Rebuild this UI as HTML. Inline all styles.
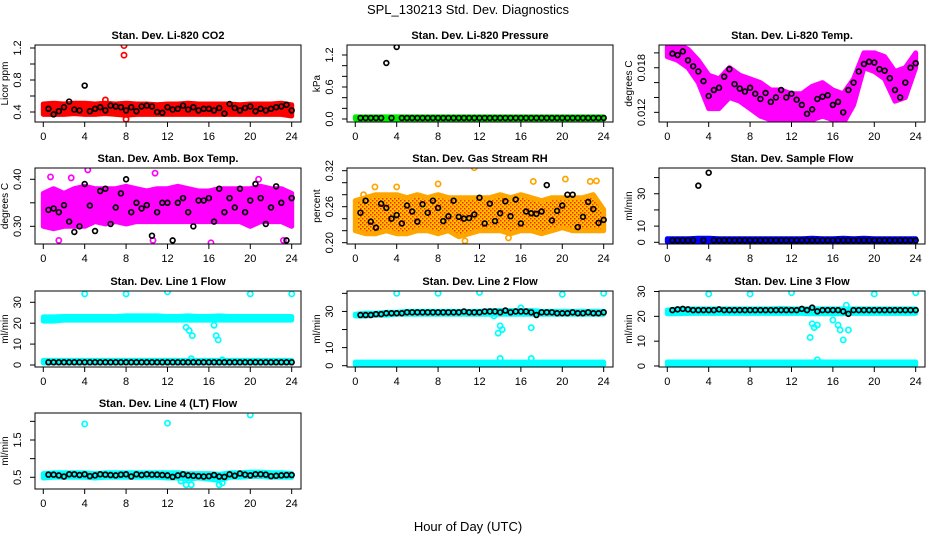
<!DOCTYPE html>
<html><head><meta charset="utf-8"><style>
html,body{margin:0;padding:0;background:#fff;}
svg{display:block;font-family:"Liberation Sans",sans-serif;}
</style></head><body>
<svg id="c" width="936" height="540" viewBox="0 0 936 540" xmlns="http://www.w3.org/2000/svg">
<defs>
<pattern id="rhpat" width="4" height="4" patternUnits="userSpaceOnUse">
<rect width="4" height="4" fill="#ffc000"/>
<rect x="0" y="0" width="1.5" height="1.5" fill="#ff2000"/>
<rect x="2" y="2" width="1.5" height="1.5" fill="#ff2000"/>
</pattern>
</defs>
<text x="468" y="14" text-anchor="middle" font-size="13">SPL_130213  Std. Dev. Diagnostics</text>
<text x="468" y="531" text-anchor="middle" font-size="13">Hour of Day (UTC)</text>
</svg>
<script>
// shared categories
const halfHours = [0.5,1,1.5,2,2.5,3,3.5,4,4.5,5,5.5,6,6.5,7,7.5,8,8.5,9,9.5,10,10.5,11,11.5,12,12.5,13,13.5,14,14.5,15,15.5,16,16.5,17,17.5,18,18.5,19,19.5,20,20.5,21,21.5,22,22.5,23,23.5,24];
const bandHours = [0,1,2,3,4,5,6,7,8,9,10,11,12,13,14,15,16,17,18,19,20,21,22,23,24];
const xTicks = [0,4,8,12,16,20,24];

// P1 CO2
const co2Black = [0.44,0.37,0.41,0.46,0.53,0.43,0.42,0.73, 0.41,0.44,0.46,0.42,0.48,0.47,0.46,0.42, 0.46,0.41,0.47,0.48,0.47,0.40,0.39,0.46, 0.43,0.44,0.48,0.43,0.46,0.42,0.44,0.44, 0.42,0.45,0.38,0.50,0.45,0.42,0.45,0.47, 0.41,0.44,0.42,0.44,0.46,0.47,0.49,0.42];
const co2Lo = [0.37,0.37,0.37,0.38,0.37,0.37,0.38,0.37,0.36,0.37,0.37,0.37,0.37,0.37,0.37,0.37,0.37,0.37,0.37,0.37,0.37,0.37,0.37,0.37,0.35];
const co2Hi = [0.50,0.51,0.50,0.51,0.51,0.50,0.51,0.50,0.51,0.50,0.50,0.49,0.50,0.50,0.51,0.50,0.50,0.50,0.50,0.49,0.50,0.50,0.50,0.51,0.49];
const co2OutX = [7.8,7.8,8.0,6.0];
const co2OutY = [1.23,1.11,0.31,0.55];

// P2 Pressure
const presBlack = [0.02,0.02,0.02,0.02,0.02,1.05,0.02,1.35, 0.02,0.02,0.02,0.02,0.02,0.02,0.02,0.02, 0.02,0.02,0.02,0.02,0.02,0.02,0.02,0.02, 0.02,0.02,0.02,0.02,0.02,0.02,0.02,0.02, 0.02,0.02,0.02,0.02,0.02,0.02,0.02,0.02, 0.02,0.02,0.02,0.02,0.02,0.02,0.02,0.02];
const presLo = [0,0,0,0,0,0,0,0,0,0,0,0,0,0,0,0,0,0,0,0,0,0,0,0,0];
const presHi = [0.04,0.04,0.04,0.04,0.04,0.04,0.04,0.04,0.04,0.04,0.04,0.04,0.04,0.04,0.04,0.04,0.04,0.04,0.04,0.04,0.04,0.04,0.04,0.04,0.04];

// P3 Li-820 temp
const tempBlack = [0.0199,0.0197,0.0202,0.0190,0.0182,0.0175,0.0162,0.0142, 0.0150,0.0153,0.0168,0.0178,0.0158,0.0152,0.0148,0.0153, 0.0145,0.0138,0.0146,0.0134,0.0140,0.0150,0.0140,0.0145, 0.0137,0.0130,0.0118,0.0124,0.0138,0.0141,0.0143,0.0130, 0.0134,0.0120,0.0150,0.0160,0.0175,0.0185,0.0188,0.0187, 0.0178,0.0176,0.0166,0.0150,0.0140,0.0160,0.0180,0.0186];
const tempLo = [0.0195,0.0190,0.0180,0.0160,0.0125,0.0125,0.0140,0.0135,0.0125,0.0115,0.0110,0.0110,0.0105,0.0110,0.0110,0.0115,0.0110,0.0105,0.0130,0.0180,0.0175,0.0165,0.0135,0.0140,0.0180];
const tempHi = [0.0208,0.0212,0.0205,0.0190,0.0170,0.0165,0.0180,0.0170,0.0165,0.0160,0.0150,0.0150,0.0145,0.0145,0.0155,0.0160,0.0150,0.0145,0.0165,0.0200,0.0200,0.0195,0.0175,0.0180,0.0200];

// P4 Amb box temp
const boxBlack = [0.335,0.338,0.33,0.345,0.31,0.288,0.30,0.39, 0.344,0.29,0.375,0.38,0.305,0.34,0.37,0.40, 0.33,0.35,0.338,0.345,0.28,0.33,0.35,0.35, 0.27,0.35,0.36,0.33,0.30,0.355,0.355,0.36, 0.31,0.38,0.33,0.36,0.34,0.38,0.33,0.355, 0.39,0.36,0.305,0.34,0.385,0.35,0.27,0.36];
const boxLo = [0.30,0.295,0.30,0.30,0.30,0.31,0.305,0.31,0.305,0.31,0.31,0.31,0.31,0.31,0.31,0.31,0.31,0.31,0.31,0.31,0.30,0.31,0.31,0.31,0.30];
const boxHi = [0.37,0.38,0.37,0.38,0.385,0.38,0.38,0.38,0.385,0.38,0.375,0.38,0.38,0.385,0.38,0.375,0.375,0.38,0.38,0.38,0.38,0.385,0.38,0.38,0.37];
const boxOutX = [0.7,4.3,10.8,1.5,16.2,20.8,2.7,10.6,23.2];
const boxOutY = [0.405,0.42,0.413,0.27,0.265,0.40,0.403,0.27,0.27];

// P5 Gas stream RH
const rhBlack = [0.25,0.27,0.235,0.225,0.265,0.258,0.24,0.246, 0.232,0.262,0.252,0.235,0.264,0.25,0.27,0.258, 0.236,0.244,0.27,0.243,0.240,0.241,0.247,0.275, 0.232,0.265,0.236,0.249,0.269,0.244,0.272,0.232, 0.252,0.249,0.248,0.252,0.296,0.237,0.253,0.262, 0.280,0.280,0.226,0.243,0.268,0.256,0.233,0.238];
const rhLo = [0.22,0.215,0.215,0.22,0.215,0.215,0.22,0.22,0.215,0.22,0.21,0.215,0.22,0.22,0.22,0.215,0.22,0.22,0.215,0.22,0.225,0.22,0.22,0.22,0.22];
const rhHi = [0.27,0.275,0.28,0.28,0.28,0.275,0.28,0.275,0.28,0.275,0.275,0.275,0.275,0.275,0.28,0.275,0.28,0.275,0.27,0.275,0.275,0.275,0.275,0.28,0.255];
const rhOutX = [11.5,8.0,0.8,20.3,22.7,23.3,17.2,1.9,4.0,10.6,14.8];
const rhOutY = [0.325,0.298,0.28,0.306,0.302,0.303,0.302,0.293,0.293,0.203,0.208];

// P6 Sample flow
const sfBlack = [1.2,1.2,1.2,1.2,1.2,35,1.2,43, 1.2,1.2,1.2,1.2,1.2,1.2,1.2,1.2, 1.2,1.2,1.2,1.2,1.2,1.2,1.2,1.2, 1.2,1.2,1.2,1.2,1.2,1.2,1.2,1.2, 1.2,1.2,1.2,1.2,1.2,1.2,1.2,1.2, 1.2,1.2,1.2,1.2,1.2,1.2,1.2,1.2];
const sfLo = [0.3,0.3,0.3,0.3,0.3,0.3,0.3,0.3,0.3,0.3,0.3,0.3,0.3,0.3,0.3,0.3,0.3,0.3,0.3,0.3,0.3,0.3,0.3,0.3,0.3];
const sfHi = [2.2,2.2,2.2,2.5,2.5,2.2,2.2,2.2,2.2,2.2,2.2,2.2,2.2,2.2,2.5,2.2,2.2,2.5,2.2,2.5,2.2,2.2,2.2,2.2,2.2];

// P7 Line 1 flow
const l1Black = [1.3,1.3,1.3,1.3,1.3,1.3,1.3,1.3, 1.3,1.3,1.3,1.3,1.3,1.3,1.3,1.3, 1.3,1.3,1.3,1.3,1.3,1.3,1.3,1.3, 1.3,1.3,1.3,1.3,1.3,1.3,1.3,1.3, 1.3,1.3,1.3,1.3,1.3,1.3,1.3,1.3, 1.3,1.3,1.3,1.3,1.3,1.3,1.3,1.3];
const l1Lo = [21,21,21.5,21.5,21.5,21.5,21.5,21.5,21.5,21.5,21.5,21.5,21.5,21.5,21.5,21.5,21.5,21.5,21.5,21.5,21.5,21.5,21.5,21.5,21.5];
const l1Hi = [23,23,23.2,23.2,23.2,23.2,23.2,23.2,23.5,23.5,23.5,23.5,23.2,23.2,23.5,23.2,23.2,23.5,23.2,23.2,23.2,23.2,23.2,23.2,23.2];
const l1Lo2 = [1,1,1,1,1,1,1,1,1,1,1,1,1,1,1,1,1,1,1,1,1,1,1,1,1];
const l1Hi2 = [2.2,2.2,2.2,2.2,2.2,2.2,2.2,2.2,2.2,2.2,2.2,2.2,2.2,2.2,2.2,2.2,2.2,2.2,2.2,2.2,2.2,2.2,2.2,2.2,2.2];
const l1OutX = [4,8,12,20,24,13.8,14.1,14.4,16.5,16.7,16.9,14.3,17.3];
const l1OutY = [34,34,35,34,34,18,16.5,14,19,14,12,3,2.5];

// P8 Line 2 flow
const l2Black = [28,28,28,28.5,28.5,29,29,29, 29,29.5,29.5,29.5,29.5,29.5,29.5,29.5, 29.5,29.5,29.5,29.5,30,29.5,29.5,29.5, 30,30,30,29.5,30.5,29.5,30,30, 30,29.5,28,29.5,29.5,29.5,29,29, 29,29.5,29,29,29.5,29,29,29.5];
const l2Lo = [27.5,27.5,28,28,28.5,28.5,28.5,28.5,28.5,28.5,28.5,28.5,28.5,28.5,28.5,28.5,28.5,28.5,28.5,28.5,28.5,28.5,28.5,28.5,28.5];
const l2Hi = [28.5,29,29,29.5,29.5,30,30,30,30,30,30,30,30,30.5,30.5,30.5,30.5,30.5,30,30,30,30,30,30,30];
const l2Lo2 = [0.6,0.6,0.6,0.6,0.6,0.6,0.6,0.6,0.6,0.6,0.6,0.6,0.6,0.6,0.6,0.6,0.6,0.6,0.6,0.6,0.6,0.6,0.6,0.6,0.6];
const l2Hi2 = [2,2,2,2,2,2,2,2,2,2,2,2,2,2,2,2,2,2,2,2,2,2,2,2,2];
const l2OutX = [4,8,12,20,24,14,14.2,13.8,13.4,16,17,14,17];
const l2OutY = [40,40,40.5,39.5,40,22,20,18,27.5,32,21,4,4];

// P9 Line 3 flow
const l3Black = [22.5,22.8,23,22.8,22.5,22.5,22.5,22.5, 22.5,22.8,22.5,22.5,22.5,22.5,22.5,22.5, 22.5,22.5,22.5,22.5,22.5,22.5,22.5,22.5, 22.5,23,22.5,23.5,22,22.5,22.5,22.5, 22.5,22,21,22.5,22.5,22.5,22.5,22.5, 22.5,22.5,22.5,22.5,22.5,22.5,22.5,22.5];
const l3Lo = [21,21,21.2,21.2,21.2,21.2,21.2,21.2,21.2,21.2,21.2,21.2,21.2,21.2,21,21,21,21,21.2,21.2,21.2,21.2,21.2,21.2,21.2];
const l3Hi = [22.5,23,23,23,23,23,23,23,23,23,23,23.2,23,23,23,23,23,23,23,23,23,23,23,23,23];
const l3Lo2 = [0.5,0.5,0.5,0.5,0.5,0.5,0.5,0.5,0.5,0.5,0.5,0.5,0.5,0.5,0.5,0.5,0.5,0.5,0.5,0.5,0.5,0.5,0.5,0.5,0.5];
const l3Hi2 = [1.6,1.6,1.6,1.6,1.6,1.6,1.6,1.6,1.6,1.6,1.6,1.6,1.6,1.6,1.6,1.6,1.6,1.6,1.6,1.6,1.6,1.6,1.6,1.6,1.6];
const l3OutX = [4,8,12,20,24,13.8,14,14.2,14.5,16,16.5,16.7,17,17.3,17.5,14.5];
const l3OutY = [29,29,29.5,29,29.5,11.5,17,15.5,16.5,18.5,16.5,14.5,10.5,24.5,14.5,2.5];

// P10 Line 4 flow
const l4Black = [0.57,0.57,0.55,0.52,0.58,0.58,0.56,0.58, 0.53,0.55,0.58,0.57,0.56,0.55,0.57,0.58, 0.52,0.58,0.56,0.58,0.57,0.57,0.56,0.55, 0.51,0.55,0.58,0.55,0.54,0.53,0.52,0.53, 0.56,0.52,0.51,0.58,0.54,0.60,0.57,0.55, 0.58,0.58,0.57,0.53,0.54,0.55,0.56,0.56];
const l4Lo = [0.48,0.50,0.50,0.50,0.50,0.48,0.50,0.50,0.50,0.50,0.50,0.50,0.48,0.48,0.45,0.48,0.45,0.42,0.50,0.50,0.52,0.52,0.50,0.50,0.50];
const l4Hi = [0.60,0.62,0.62,0.62,0.62,0.60,0.62,0.62,0.62,0.62,0.62,0.62,0.62,0.62,0.60,0.60,0.60,0.58,0.62,0.62,0.64,0.64,0.62,0.62,0.60];
const l4OutX = [4,12,20,13.3,13.8,14.3,16.5,17,17.3];
const l4OutY = [1.93,1.95,2.17,0.4,0.3,0.3,0.45,0.3,0.35];

// layout (not data)
const colL = [35,347,659], colR = [301,613,925];
const rowT = [45,168,291,413], rowB = [122,244,367,489];

const panels = [
 {name:'co2',title:'Stan. Dev. Li-820 CO2',ylab:'Licor ppm',r:0,c:0,dom:[0.275,1.2375],ticks:[0.4,0.6,0.8,1.0,1.2],labs:['0.4','','0.8','','1.2'],col:'#ff0000',black:co2Black,lo:co2Lo,hi:co2Hi,ox:co2OutX,oy:co2OutY},
 {name:'pressure',title:'Stan. Dev. Li-820 Pressure',ylab:'kPa',r:0,c:1,dom:[-0.056,1.3875],ticks:[0,0.2,0.4,0.6,0.8,1.0,1.2],labs:['0.0','','','0.6','','','1.2'],col:'#00ee00',black:presBlack,lo:presLo,hi:presHi},
 {name:'li820-temp',title:'Stan. Dev. Li-820 Temp.',ylab:'degrees C',r:0,c:2,dom:[0.0107,0.02106],ticks:[0.012,0.014,0.016,0.018,0.020],labs:['0.012','','','0.018',''],col:'#ff00ff',black:tempBlack,lo:tempLo,hi:tempHi},
 {name:'box-temp',title:'Stan. Dev. Amb. Box Temp.',ylab:'degrees C',r:1,c:0,dom:[0.2624,0.424],ticks:[0.30,0.35,0.40],labs:['0.30','','0.40'],col:'#ff00ff',black:boxBlack,lo:boxLo,hi:boxHi,ox:boxOutX,oy:boxOutY},
 {name:'gas-rh',title:'Stan. Dev. Gas Stream RH',ylab:'percent',r:1,c:1,dom:[0.1978,0.3245],ticks:[0.20,0.22,0.24,0.26,0.28,0.30,0.32],labs:['0.20','','','0.26','','','0.32'],col:'#ffa500',fill:'url(#rhpat)',black:rhBlack,lo:rhLo,hi:rhHi,ox:rhOutX,oy:rhOutY},
 {name:'sample-flow',title:'Stan. Dev. Sample Flow',ylab:'ml/min',r:1,c:2,dom:[-1.05,45.9],ticks:[0,10,20,30,40],labs:['0','10','','30',''],col:'#0000ff',black:sfBlack,lo:sfLo,hi:sfHi},
 {name:'line1-flow',title:'Stan. Dev. Line 1 Flow',ylab:'ml/min',r:2,c:0,dom:[-0.96,35.4],ticks:[0,10,20,30],labs:['0','10','20','30'],col:'#00ffff',black:l1Black,lo:l1Lo,hi:l1Hi,lo2:l1Lo2,hi2:l1Hi2,ox:l1OutX,oy:l1OutY},
 {name:'line2-flow',title:'Stan. Dev. Line 2 Flow',ylab:'ml/min',r:2,c:1,dom:[-0.72,41.3],ticks:[0,10,20,30,40],labs:['0','10','','30',''],col:'#00ffff',black:l2Black,lo:l2Lo,hi:l2Hi,lo2:l2Lo2,hi2:l2Hi2,ox:l2OutX,oy:l2OutY},
 {name:'line3-flow',title:'Stan. Dev. Line 3 Flow',ylab:'ml/min',r:2,c:2,dom:[-0.4,30.2],ticks:[0,10,20,30],labs:['0','10','20','30'],col:'#00ffff',black:l3Black,lo:l3Lo,hi:l3Hi,lo2:l3Lo2,hi2:l3Hi2,ox:l3OutX,oy:l3OutY},
 {name:'line4-flow',title:'Stan. Dev. Line 4 (LT) Flow',ylab:'ml/min',r:3,c:0,dom:[0.186,2.224],ticks:[0.5,1.0,1.5,2.0],labs:['0.5','','1.5',''],col:'#00ffff',black:l4Black,lo:l4Lo,hi:l4Hi,ox:l4OutX,oy:l4OutY}
];

const svg = document.getElementById('c');
const NS = 'http://www.w3.org/2000/svg';
function mk(tag, attrs, parent){ const e=document.createElementNS(NS,tag); for(const k in attrs) e.setAttribute(k,attrs[k]); parent.appendChild(e); return e; }

panels.forEach(p=>{
  const L=colL[p.c], R=colR[p.c], T=rowT[p.r], B=rowB[p.r];
  const xs = v => L + (v+0.8)/(25.7)*(R-L);
  const ys = v => B - (v-p.dom[0])/(p.dom[1]-p.dom[0])*(B-T);
  const g = mk('g',{},svg);
  
  
  const cp = mk('clipPath',{id:'cp-'+p.name},g);
  mk('rect',{x:L,y:T,width:R-L,height:B-T},cp);
  const t = mk('text',{x:(L+R)/2,y:T-6,'text-anchor':'middle','font-size':'11','font-weight':'bold'},g);
  t.textContent = p.title;
  
  
  const marks = mk('g',{'clip-path':'url(#cp-'+p.name+')'},g);
  
  
  function band(lo,hi,nm){
    let d='M'+bandHours.map((h,i)=>xs(h).toFixed(1)+','+ys(hi[i]).toFixed(1)).join('L');
    d+='L'+bandHours.slice().reverse().map((h,j)=>{const i=bandHours.length-1-j;return xs(h).toFixed(1)+','+ys(lo[i]).toFixed(1);}).join('L')+'Z';
    const b = mk('path',{d:d,fill:p.fill||p.col,stroke:p.col,'stroke-width':'5','stroke-linejoin':'round'},marks);
    
    
  }
  band(p.lo,p.hi,p.name+'-band');
  if(p.lo2) band(p.lo2,p.hi2,p.name+'-low-band');
  if(p.ox) p.ox.forEach((x,i)=>{
    const c = mk('circle',{cx:xs(x),cy:ys(p.oy[i]),r:2.6,fill:'none',stroke:p.col,'stroke-width':'1.7'},marks);
    
    
  });
  p.black.forEach((v,i)=>{
    const c = mk('circle',{cx:xs(halfHours[i]),cy:ys(v),r:2.4,fill:'none',stroke:'#000','stroke-width':'1.7'},marks);
    
    
  });
  const box = mk('rect',{x:L,y:T,width:R-L,height:B-T,fill:'none',stroke:'#000','stroke-width':'1'},g);
  
  
  const xa = mk('g',{},g);
  
  
  mk('line',{x1:xs(0),x2:xs(24),y1:B,y2:B,stroke:'#000'},xa);
  xTicks.forEach(v=>{
    mk('line',{x1:xs(v),x2:xs(v),y1:B,y2:B+5,stroke:'#000'},xa);
    const tl = mk('text',{x:xs(v),y:B+18,'text-anchor':'middle','font-size':'11'},xa);
    tl.textContent = v;
  });
  const ya = mk('g',{},g);
  
  
  mk('line',{x1:L,x2:L,y1:ys(p.ticks[0]),y2:ys(p.ticks[p.ticks.length-1]),stroke:'#000'},ya);
  p.ticks.forEach((v,i)=>{
    const y=ys(v);
    mk('line',{x1:L-5,x2:L,y1:y,y2:y,stroke:'#000'},ya);
    if(p.labs[i]){
      const tl = mk('text',{x:L-14,y:y,'text-anchor':'middle','font-size':'11',transform:'rotate(-90 '+(L-14)+' '+y+')'},ya);
      tl.textContent = p.labs[i];
    }
  });
  const yl = mk('text',{x:L-27,y:(T+B)/2,'text-anchor':'middle','font-size':'10',transform:'rotate(-90 '+(L-27)+' '+((T+B)/2)+')'},g);
  yl.textContent = p.ylab;
  
  
});
</script>
</body></html>
